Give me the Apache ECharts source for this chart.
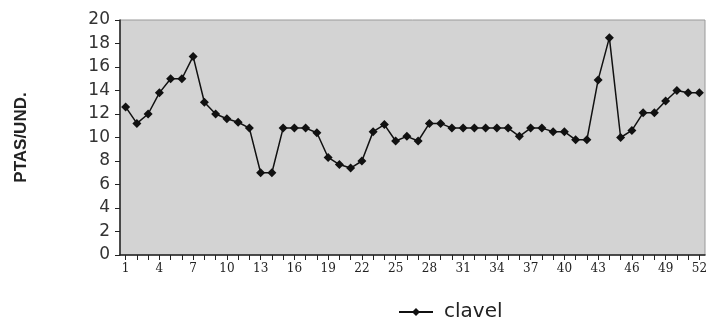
<!DOCTYPE html>
<html>
<head>
<meta charset="utf-8">
<script src="https://cdn.jsdelivr.net/npm/echarts@6/dist/echarts.min.js"></script>
<style>
  html, body { margin: 0; padding: 0; background: #fff; }
  #chart { width: 714px; height: 329px; }
</style>
</head>
<body>
<div id="chart"></div>
<script>
// weeks 1..52
const weeks = [];
for (let i = 1; i <= 52; i++) weeks.push(String(i));

const clavel = [
  12.6, 11.2, 12.0, 13.8, 15.0, 15.0, 16.9, 13.0, 12.0, 11.6,
  11.3, 10.8, 7.0, 7.0, 10.8, 10.8, 10.8, 10.4, 8.3, 7.7,
  7.4, 8.0, 10.5, 11.1, 9.7, 10.1, 9.7, 11.2, 11.2, 10.8,
  10.8, 10.8, 10.8, 10.8, 10.8, 10.1, 10.8, 10.8, 10.5, 10.5,
  9.8, 9.8, 14.9, 18.5, 10.0, 10.6, 12.1, 12.1, 13.1, 14.0,
  13.8, 13.8
];

const chart = echarts.init(document.getElementById('chart'));

chart.setOption({
  animation: false,
  backgroundColor: '#fff',
  grid: {
    left: 120, right: 9, top: 20, bottom: 74,
    show: true,
    backgroundColor: '#d3d3d3',
    borderColor: '#999',
    borderWidth: 1
  },
  legend: {
    bottom: 2,
    left: 393,
    data: ['clavel'],
    itemWidth: 34,
    itemHeight: 10,
    itemGap: 10,
    textStyle: { fontSize: 20, color: '#222', fontFamily: 'DejaVu Sans', padding: [0, 0, 0, 6] }
  },
  xAxis: {
    type: 'category',
    data: weeks,
    boundaryGap: true,
    axisLine: { lineStyle: { color: '#222', width: 1.5 } },
    axisTick: { show: true, interval: 0, alignWithLabel: true, length: 5, lineStyle: { color: '#222' } },
    axisLabel: { interval: 2, fontSize: 12, color: '#222', fontFamily: 'DejaVu Serif', margin: 8 },
    splitLine: { show: false }
  },
  yAxis: {
    type: 'value',
    min: 0, max: 20, interval: 2,
    name: 'PTAS/UND.',
    nameLocation: 'middle',
    nameGap: 90,
    nameRotate: 90,
    nameTextStyle: { fontSize: 17, fontWeight: 'bold', color: '#222', fontFamily: 'Liberation Sans' },
    axisLine: { show: true, lineStyle: { color: '#222', width: 1.5 } },
    axisTick: { show: true, length: 5, lineStyle: { color: '#222' } },
    axisLabel: { fontSize: 17, color: '#333', fontFamily: 'DejaVu Sans', margin: 10 },
    splitLine: { show: false }
  },
  series: [{
    name: 'clavel',
    type: 'line',
    data: clavel,
    symbol: 'diamond',
    symbolSize: 9,
    showAllSymbol: true,
    itemStyle: { color: '#111' },
    lineStyle: { color: '#111', width: 1.5 }
  }]
});
</script>
</body>
</html>
